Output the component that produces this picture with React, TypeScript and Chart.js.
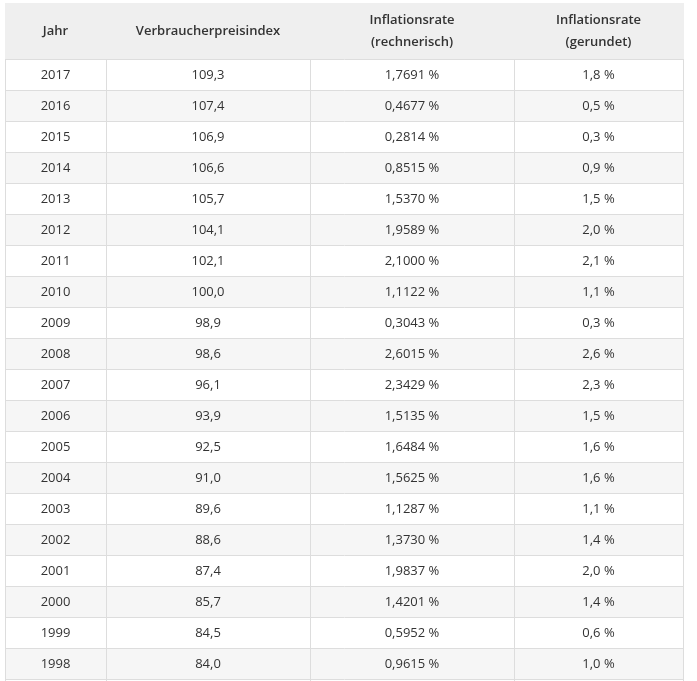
import React, { useEffect, useRef } from "react";
import { Chart, registerables } from "chart.js";

Chart.register(...registerables);

const years = [2017, 2016, 2015, 2014, 2013, 2012, 2011, 2010, 2009, 2008, 2007, 2006, 2005, 2004, 2003, 2002, 2001, 2000, 1999, 1998];
const cpi = [109.3, 107.4, 106.9, 106.6, 105.7, 104.1, 102.1, 100.0, 98.9, 98.6, 96.1, 93.9, 92.5, 91.0, 89.6, 88.6, 87.4, 85.7, 84.5, 84.0];
const rateExact = [1.7691, 0.4677, 0.2814, 0.8515, 1.537, 1.9589, 2.1, 1.1122, 0.3043, 2.6015, 2.3429, 1.5135, 1.6484, 1.5625, 1.1287, 1.373, 1.9837, 1.4201, 0.5952, 0.9615];
const rateRounded = [1.8, 0.5, 0.3, 0.9, 1.5, 2.0, 2.1, 1.1, 0.3, 2.6, 2.3, 1.5, 1.6, 1.6, 1.1, 1.4, 2.0, 1.4, 0.6, 1.0];
const headers = [["Jahr"], ["Verbraucherpreisindex"], ["Inflationsrate", "(rechnerisch)"], ["Inflationsrate", "(gerundet)"]];

const de = (v: number, d: number) => v.toFixed(d).replace(".", ",");

const FONT = "'Open Sans', sans-serif";
const colEdges = [0, 101, 305, 509, 678];

const tablePlugin = {
  id: "tablePlugin",
  afterDraw(chart: any) {
    const ctx = chart.ctx as CanvasRenderingContext2D;
    const xs = chart.scales.x;
    const ys = chart.scales.y;
    const edges = colEdges.map((v) => Math.round(xs.getPixelForValue(v)));
    const step = ys.getPixelForValue(1) - ys.getPixelForValue(0);
    const top = chart.chartArea.top;
    const headerTop = 3;
    ctx.save();
    // header
    ctx.fillStyle = "#efefef";
    ctx.fillRect(edges[0], headerTop, edges[4] - edges[0] + 1, top - headerTop);
    ctx.fillStyle = "#333333";
    ctx.textAlign = "center";
    ctx.textBaseline = "middle";
    ctx.font = `600 13px ${FONT}`;
    headers.forEach((lines, c) => {
      const cx = (edges[c] + edges[c + 1]) / 2;
      const mid = (headerTop + top) / 2;
      lines.forEach((t, k) => {
        const yy = mid + (k - (lines.length - 1) / 2) * 22;
        ctx.fillText(t, cx, yy);
      });
    });
    // rows
    const rowCells = years.map((yr, i) => [String(yr), de(cpi[i], 1), de(rateExact[i], 4) + " %", de(rateRounded[i], 1) + " %"]);
    rowCells.forEach((cells, i) => {
      const yc = ys.getPixelForValue(i);
      const y0 = Math.round(yc - step / 2);
      if (i % 2 === 1) {
        ctx.fillStyle = "#f6f6f6";
        ctx.fillRect(edges[0], y0, edges[4] - edges[0], Math.round(step));
      }
      ctx.fillStyle = "#333333";
      ctx.font = `400 13px ${FONT}`;
      cells.forEach((t, c) => {
        ctx.fillText(t, (edges[c] + edges[c + 1]) / 2, yc + 0.5);
      });
    });
    // borders
    ctx.strokeStyle = "#dddddd";
    ctx.lineWidth = 1;
    ctx.beginPath();
    for (let i = 0; i <= years.length; i++) {
      const yy = Math.round(ys.getPixelForValue(i) - step / 2) + 0.5;
      ctx.moveTo(edges[0], yy);
      ctx.lineTo(edges[4] + 1, yy);
    }
    edges.forEach((e) => {
      ctx.moveTo(e + 0.5, top);
      ctx.lineTo(e + 0.5, chart.height);
    });
    ctx.stroke();
    ctx.restore();
  },
};

export default function App() {
  const ref = useRef<HTMLCanvasElement | null>(null);
  useEffect(() => {
    if (!ref.current) return;
    const chart = new Chart(ref.current, {
      type: "line",
      data: { labels: years.map(String), datasets: [] },
      options: {
        animation: false,
        responsive: false,
        events: [],
        layout: { padding: { left: 5, right: 14, top: 59, bottom: 2 } },
        plugins: { legend: { display: false }, tooltip: { enabled: false } },
        scales: {
          x: { type: "linear", min: 0, max: 678, display: false },
          y: { type: "category", labels: years.map(String), offset: true, display: false },
        },
      },
      plugins: [tablePlugin],
    });
    return () => chart.destroy();
  }, []);
  return (
    <div style={{ position: "fixed", left: 0, top: 0, width: 697, height: 681, background: "#fff" }}>
      <canvas ref={ref} width={697} height={681} style={{ display: "block" }} />
    </div>
  );
}
